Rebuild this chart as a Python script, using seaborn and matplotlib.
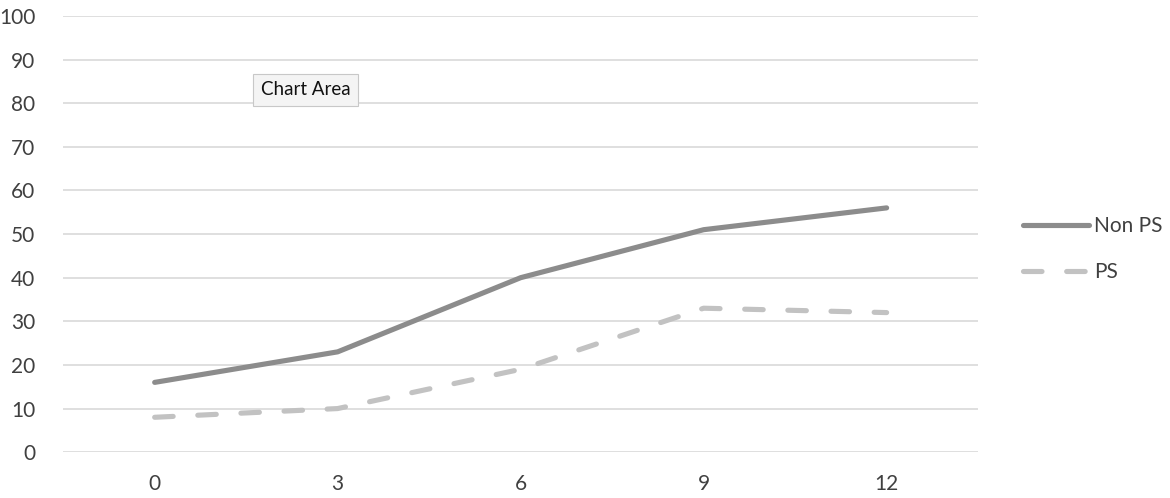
import matplotlib
matplotlib.use("Agg")
import matplotlib.pyplot as plt
import pandas as pd
import seaborn as sns

# values
months = ["0", "3", "6", "9", "12"]
non_ps = [16, 23, 40, 51, 56]
ps = [8, 10, 19, 33, 32]
y_ticks = [0, 10, 20, 30, 40, 50, 60, 70, 80, 90, 100]

df = pd.DataFrame({
    "month": months * 2,
    "value": non_ps + ps,
    "group": ["Non PS"] * len(months) + ["PS"] * len(months),
})

sns.set_style("white")
plt.rcParams["font.family"] = ["Lato", "DejaVu Sans"]

fig = plt.figure(figsize=(11.7, 4.98), dpi=100)
ax = fig.add_axes([0.054, 0.092, 0.782, 0.876])

sns.lineplot(
    data=df, x="month", y="value", hue="group", style="group",
    palette={"Non PS": "#8c8c8c", "PS": "#c2c2c2"},
    dashes={"Non PS": "", "PS": (3.6, 4.8)},
    linewidth=3.7, sort=False, ax=ax, legend=False,
)
for line in ax.get_lines():
    line.set_solid_capstyle("round")
    line.set_dash_capstyle("round")

ax.set_xlim(-0.5, len(months) - 0.5)
ax.set_ylim(0, 100)
ax.set_yticks(y_ticks)
ax.yaxis.grid(True, color="#d9d9d9", linewidth=1.2)
ax.set_axisbelow(True)
for s in ax.spines.values():
    s.set_visible(False)
ax.tick_params(axis="both", length=0, labelsize=15, colors="#404040", pad=16)
ax.tick_params(axis="y", pad=20)
ax.set_xlabel("")
ax.set_ylabel("")

# legend on the right, drawn by hand like the Excel one
leg_lines = [
    plt.Line2D([], [], color="#8c8c8c", lw=3.7, solid_capstyle="round"),
    plt.Line2D([], [], color="#c2c2c2", lw=3.7, ls=(0, (3.6, 4.8)),
               dash_capstyle="round"),
]
fig.legend(leg_lines, ["Non PS", "PS"], loc="center left",
           bbox_to_anchor=(0.858, 0.50), frameon=False, fontsize=15,
           handlelength=3.2, handletextpad=0.25, labelspacing=1.25,
           labelcolor="#404040")

fig.text(0.261, 0.82, "Chart Area", fontsize=13.5, color="#111111",
         ha="center", va="center",
         bbox=dict(boxstyle="square,pad=0.4", fc="#f4f4f4", ec="#c8c8c8", lw=0.8))

fig.savefig("out.png", dpi=100)
